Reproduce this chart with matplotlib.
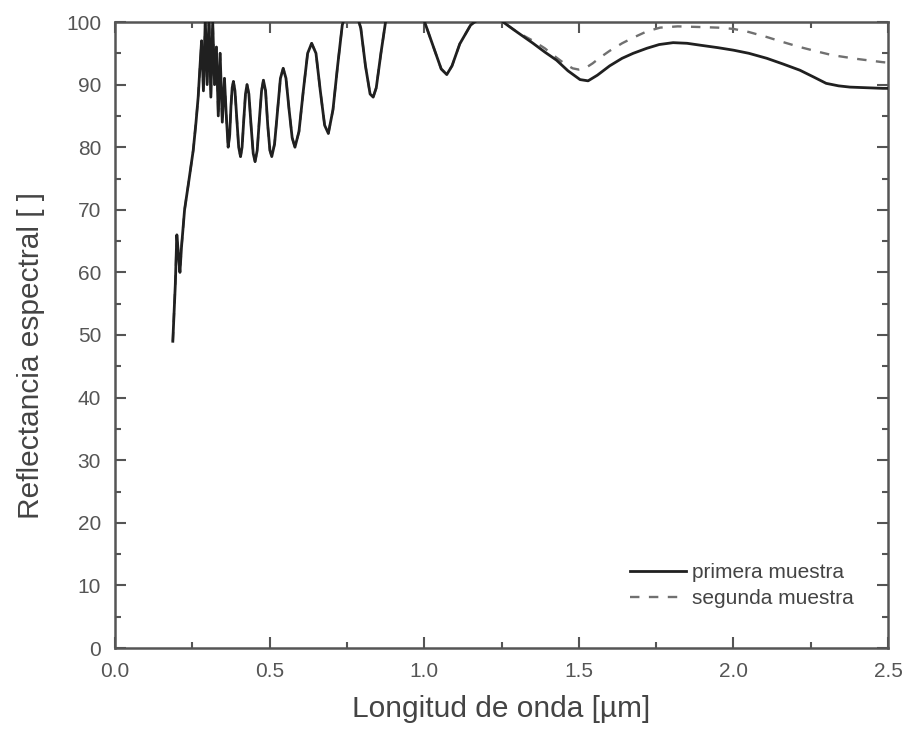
import matplotlib
matplotlib.use("Agg")
import matplotlib.pyplot as plt
from matplotlib.ticker import MultipleLocator, FormatStrFormatter

plt.rcParams['font.family'] = ['Liberation Sans', 'DejaVu Sans']

# short-wavelength part, where both samples overlap
wl_common = [0.187, 0.195, 0.200, 0.205, 0.210, 0.215, 0.225, 0.237, 0.253, 0.262,
             0.269, 0.275, 0.280, 0.286, 0.292, 0.298, 0.304, 0.310, 0.316, 0.322,
             0.328, 0.334, 0.340, 0.347, 0.354, 0.360,
             0.366, 0.371, 0.375, 0.379, 0.383, 0.388, 0.394, 0.400, 0.406, 0.411,
             0.416, 0.422, 0.427, 0.433, 0.440, 0.447, 0.453, 0.460, 0.467, 0.474,
             0.480, 0.487, 0.494, 0.501, 0.507, 0.516, 0.526, 0.535, 0.544, 0.553,
             0.563, 0.573, 0.582, 0.595, 0.609, 0.623, 0.636, 0.650, 0.664, 0.678,
             0.690, 0.705, 0.720, 0.735, 0.750, 0.765, 0.780, 0.795, 0.810, 0.825,
             0.835, 0.845, 0.860, 0.875, 0.900, 0.930, 0.970, 1.000, 1.030, 1.055,
             1.073, 1.090, 1.115, 1.150, 1.190, 1.225, 1.255, 1.300]
refl_common = [49.0, 58.0, 66.0, 63.0, 60.0, 64.0, 70.0, 74.0, 79.5, 84.0,
               88.0, 93.0, 97.0, 89.0, 100.5, 90.0, 101.0, 88.0, 100.0, 90.0,
               96.0, 85.0, 95.0, 84.0, 91.0, 85.0,
               80.0, 82.0, 86.5, 89.5, 90.5, 89.0, 84.5, 80.0, 78.5, 80.0,
               84.0, 88.5, 90.0, 88.5, 83.5, 79.0, 77.7, 79.5, 84.5, 89.0,
               90.7, 89.0, 83.5, 79.5, 78.5, 80.5, 86.0, 91.0, 92.6, 91.0,
               86.0, 81.5, 80.0, 82.5, 89.0, 95.0, 96.6, 95.0, 89.0, 83.5,
               82.2, 86.0, 93.0, 99.5, 102.0, 102.5, 101.5, 99.0, 93.0, 88.5,
               88.0, 89.5, 95.0, 100.0, 103.0, 104.0, 103.0, 100.2, 96.0, 92.5,
               91.6, 93.0, 96.5, 99.5, 101.0, 101.5, 100.0, 98.4]

# primera muestra, long-wavelength tail
wl_1_tail = [1.352, 1.390, 1.428, 1.465, 1.504, 1.530, 1.560, 1.600, 1.640, 1.676,
             1.720, 1.760, 1.805, 1.850, 1.892, 1.950, 2.000, 2.050, 2.108, 2.160,
             2.215, 2.260, 2.300, 2.340, 2.377, 2.430, 2.484, 2.500]
refl_1_tail = [96.6, 95.2, 93.9, 92.2, 90.8, 90.6, 91.5, 93.0, 94.2, 95.0,
               95.8, 96.4, 96.7, 96.6, 96.3, 95.9, 95.5, 95.0, 94.2, 93.3,
               92.3, 91.2, 90.2, 89.8, 89.6, 89.5, 89.4, 89.4]

# segunda muestra, long-wavelength tail
wl_2_tail = [1.352, 1.390, 1.420, 1.450, 1.480, 1.500, 1.520, 1.545, 1.568, 1.600,
             1.640, 1.676, 1.720, 1.763, 1.820, 1.890, 1.950, 2.000, 2.050, 2.108,
             2.160, 2.215, 2.270, 2.320, 2.400, 2.480, 2.500]
refl_2_tail = [97.0, 95.8, 94.6, 93.5, 92.6, 92.4, 92.6, 93.4, 94.3, 95.4,
               96.6, 97.5, 98.5, 99.1, 99.3, 99.2, 99.1, 98.9, 98.4, 97.6,
               96.8, 96.0, 95.3, 94.7, 94.1, 93.6, 93.5]

wl_1 = wl_common + wl_1_tail
refl_1 = refl_common + refl_1_tail
wl_2 = wl_common + wl_2_tail
refl_2 = refl_common + refl_2_tail

fig = plt.figure(figsize=(9.11, 7.38), dpi=100)
ax = fig.add_axes([115 / 911, 90 / 738, 773 / 911, 626 / 738])

ax.plot(wl_2, refl_2, color="#707070", lw=1.7, ls=(0, (4, 4)), label="segunda muestra", zorder=2)
ax.plot(wl_1, refl_1, color="#202020", lw=2.0, label="primera muestra", zorder=3)

ax.set_xlim(0, 2.5)
ax.set_ylim(0, 100)
ax.xaxis.set_major_locator(MultipleLocator(0.5))
ax.xaxis.set_minor_locator(MultipleLocator(0.25))
ax.yaxis.set_major_locator(MultipleLocator(10))
ax.yaxis.set_minor_locator(MultipleLocator(5))
ax.xaxis.set_major_formatter(FormatStrFormatter("%.1f"))

for s in ax.spines.values():
    s.set_color("#555555")
    s.set_linewidth(1.8)
ax.tick_params(which="both", direction="in", top=True, right=True,
               color="#555555", width=1.5, labelcolor="#555555", labelsize=15)
ax.tick_params(which="major", length=8, pad=10)
ax.tick_params(which="minor", length=4)

ax.set_xlabel("Longitud de onda [\u00b5m]", fontsize=21.5, color="#444444", labelpad=10)
ax.set_ylabel("Reflectancia espectral [ ]", fontsize=21.5, color="#444444")
ax.yaxis.set_label_coords(-0.091, 0.468)

h, l = ax.get_legend_handles_labels()
ax.legend(h[::-1], l[::-1], loc="upper left", frameon=False, fontsize=15,
          labelcolor="#444444", handlelength=2.7, handletextpad=0.3,
          labelspacing=0.35, borderpad=0, borderaxespad=0,
          bbox_to_anchor=(0.666, 0.136))

fig.savefig("out.png", dpi=100, facecolor="white")
